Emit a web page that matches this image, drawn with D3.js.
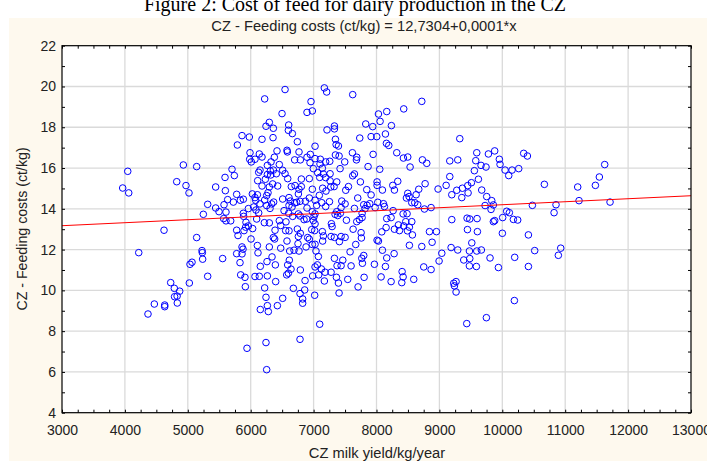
<!DOCTYPE html>
<html>
<head>
<meta charset="utf-8">
<script src="https://cdn.jsdelivr.net/npm/d3@7"></script>
<style>
  body { margin: 0; background: #fff; }
  svg { display: block; }
</style>
</head>
<body>
<div id="chart"></div>
<script>
// milk yield (kg/year), feeding costs (ct/kg)
const points = [
  [4045,15.84],[3965,15.02],[4061,14.78],[4824,15.33],[4622,12.95],[4220,11.85],[4728,10.38],[4786,10.10],
  [4790,9.69],[4830,9.72],[4871,9.96],[4833,9.38],[4468,9.33],[4633,9.28],[4633,9.20],[4367,8.84],
  [7171,19.93],[7208,19.73],[6546,19.85],[6222,19.39],[6959,19.26],[6895,18.73],[6980,18.80],[6498,18.67],
  [6296,18.24],[6243,18.05],[6360,17.95],[6604,18.11],[6599,17.85],[6662,17.69],[7213,17.87],[5862,17.59],
  [5978,17.52],[6180,17.41],[6355,17.49],[6742,17.29],[5788,17.13],[7023,17.07],[6418,16.84],[6577,16.87],
  [6583,16.79],[6768,16.79],[5989,16.75],[6137,16.69],[6948,16.67],[6895,16.53],[6376,16.53],[6180,16.54],
  [5984,16.43],[6010,16.30],[6068,16.43],[6699,16.40],[6789,16.40],[7023,16.46],[7107,16.43],[6943,16.26],
  [6323,16.30],[6265,16.13],[6455,16.17],[4929,16.15],[5141,16.07],[7102,16.20],[7192,16.30],[6996,15.97],
  [7139,15.99],[5703,15.94],[6148,15.90],[6127,15.79],[6312,15.86],[6360,15.90],[6508,15.89],[6546,15.72],
  [6408,15.72],[6265,15.68],[6318,15.66],[7065,15.77],[7155,15.71],[5592,15.54],[5740,15.63],[6111,15.38],
  [6233,15.45],[6588,15.48],[6805,15.46],[6932,15.48],[7097,15.54],[7192,15.53],[4971,15.14],[5443,15.07],
  [5019,14.78],[5597,14.89],[6180,15.12],[6296,15.07],[6349,15.22],[6429,15.12],[6646,15.09],[6705,15.14],
  [6768,14.96],[6805,15.09],[6980,14.96],[7144,15.01],[7197,14.87],[6275,14.79],[6254,14.65],[6026,14.73],
  [6106,14.69],[5777,14.71],[5634,14.45],[5724,14.33],[5835,14.42],[5883,14.47],[6068,14.55],[6079,14.42],
  [6222,14.43],[6365,14.33],[6508,14.48],[6609,14.55],[6630,14.38],[6699,14.29],[6758,14.73],[6784,14.37],
  [6869,14.37],[6932,14.53],[7023,14.42],[7091,14.66],[7129,14.30],[5316,14.22],[5443,14.04],[5576,14.20],
  [5496,13.86],[5607,13.84],[5247,13.73],[5963,14.01],[6047,14.09],[6148,14.24],[6127,13.80],[6254,14.16],
  [6334,14.24],[6307,14.02],[6609,14.17],[6657,14.09],[6731,14.32],[6895,14.04],[7049,14.17],[5883,13.78],
  [6604,13.78],[6758,13.75],[6980,13.86],[7192,14.11],[7023,13.75],[6530,13.91],[6084,13.94],
  [7622,19.60],[8720,19.27],[8031,18.65],[8163,18.77],[8057,18.29],[8433,18.90],[7829,18.16],[7940,18.03],
  [8237,18.08],[7331,18.06],[7331,17.92],[7734,17.47],[7914,17.54],[8004,17.54],[8142,17.67],[7347,17.41],
  [9324,17.44],[7358,17.15],[7395,17.08],[8158,17.21],[8195,17.11],[7617,16.75],[8322,16.75],[7946,16.67],
  [7347,16.64],[7405,16.59],[7686,16.53],[7681,16.40],[8428,16.49],[8497,16.54],[8730,16.40],[8799,16.23],
  [7257,16.33],[7495,16.30],[8534,16.05],[7866,16.07],[8052,15.94],[7421,15.97],[9165,16.35],[9292,16.40],
  [7262,15.72],[7649,15.71],[7622,15.62],[7368,15.32],[7262,15.37],[7326,15.09],[7273,15.07],[7554,15.09],
  [7744,15.32],[8009,15.32],[8009,15.15],[8338,15.35],[8259,15.15],[8285,14.92],[8094,14.92],[7845,14.94],
  [7511,14.91],[8773,15.23],[8672,14.96],[8979,14.97],[9107,15.15],[9165,15.58],[9197,14.69],[9276,14.91],
  [9366,15.01],[9451,15.14],[9456,14.78],[9509,15.28],[7702,14.53],[7914,14.68],[8497,14.76],[8518,14.60],
  [8476,14.53],[8630,14.69],[8608,14.30],[8656,14.20],[8561,14.30],[7448,14.38],[7501,14.24],[7252,14.35],
  [7649,14.02],[7797,14.20],[7850,14.17],[7893,14.25],[8020,14.32],[8110,14.25],[8126,14.11],[7978,14.06],
  [7818,14.01],[7437,14.06],[7368,13.86],[7342,13.73],[7426,13.78],[7771,13.78],[8264,13.91],[8423,13.75],
  [8486,13.76],[8762,13.99],[8868,14.06],[9356,14.55],
  [5570,13.52],[5607,13.41],[5682,13.41],[5888,13.63],[5925,13.34],[5920,13.10],[5963,13.16],[6031,13.03],
  [5777,12.95],[5798,12.69],[5894,12.93],[6095,13.50],[6217,13.32],[6296,13.31],[6455,13.42],[6477,13.18],
  [6561,13.36],[6609,12.92],[6556,12.93],[6387,12.95],[6742,13.01],[6789,12.80],[6848,13.47],[6890,13.50],
  [6996,13.42],[7023,13.26],[6970,12.98],[7017,12.93],[7007,13.62],[7139,12.88],[7155,12.67],[5141,12.59],
  [6005,12.52],[6360,12.59],[6381,12.52],[6577,12.42],[6758,12.64],[6752,12.29],[6906,12.59],[6932,12.51],
  [6980,12.25],[7023,12.26],[7144,12.42],[6296,12.13],[6477,12.07],[6620,11.93],[6689,11.97],[6768,11.93],
  [6880,12.13],[7038,11.93],[7076,11.66],[5226,11.95],[5231,11.85],[5236,11.53],[5554,11.56],[5862,12.13],
  [5878,12.02],[5862,11.79],[5777,11.80],[6106,12.20],[6116,11.84],[6339,11.64],[6259,11.41],[6392,11.25],
  [6153,11.18],[5830,11.36],[5035,11.28],[5067,11.38],[5316,10.69],[5841,10.76],[5909,10.64],[6068,10.68],
  [6137,10.69],[6265,10.71],[5915,10.18],[6397,10.43],[6588,11.25],[6614,11.48],[6641,11.04],[6572,10.76],
  [6599,10.84],[6678,10.10],[6789,11.00],[6864,10.48],[6858,10.02],[6784,9.84],[6826,9.58],[6826,9.37],
  [7023,11.15],[6985,10.71],[7060,11.25],[7081,10.76],[7123,11.05],[7182,10.89],[7171,10.46],[7017,9.76],
  [5024,10.36],[6222,10.12],[6243,9.66],[6508,9.61],[6153,9.06],[6265,9.25],[6280,8.96],[6424,9.25],
  [7097,8.34],[6784,7.60],[6243,7.44],[5941,7.16],[6254,6.11],[6667,13.63],[6784,13.65],
  [7384,13.67],[7522,13.44],[7686,13.37],[7729,13.47],[7771,13.57],[7283,13.27],[7294,13.13],[7278,12.64],
  [7331,12.60],[7437,12.64],[7501,12.60],[7410,12.39],[7628,13.00],[7755,12.83],[7760,12.57],[7670,12.25],
  [7580,11.89],[8163,13.52],[8232,13.57],[8153,13.08],[8084,12.87],[8285,13.00],[8365,12.93],[8349,13.21],
  [8465,13.37],[8561,13.37],[8433,13.16],[8523,13.10],[8571,12.72],[8492,12.92],[8009,12.46],[8031,12.42],
  [8523,12.21],[8720,12.15],[8842,12.88],[8953,12.88],[8884,12.36],[9197,13.47],[9440,13.54],[9483,13.50],
  [9446,12.98],[9515,12.33],[9186,12.10],[9292,11.98],[9387,11.49],[9483,11.56],[9477,11.20],[8094,11.97],
  [8280,11.80],[8163,11.59],[8142,11.17],[7967,11.28],[8073,10.66],[8232,10.43],[8407,10.92],[8423,10.66],
  [8402,10.38],[8592,10.54],[8751,11.15],[8868,11.02],[8995,11.44],[9038,11.82],[7797,11.71],[7766,11.57],
  [7776,11.33],[7596,11.20],[7437,11.21],[7464,11.48],[7331,11.57],[7373,11.21],[7278,10.89],[7363,10.64],
  [7395,10.36],[7405,9.87],[7543,10.54],[7707,10.17],[7803,10.64],[9228,10.35],[9265,10.43],[9239,10.22],
  [9265,9.92],[9435,8.37],
  [9594,16.75],[9578,16.36],[9779,16.69],[9879,16.84],[9662,16.13],[9741,16.05],[9953,16.43],[9964,16.18],
  [10044,15.90],[10155,15.90],[10102,15.63],[10261,15.97],[10340,16.72],[10399,16.59],[10669,15.20],[11199,15.07],
  [11480,15.15],[11543,15.56],[11628,16.17],[11220,14.40],[11713,14.33],[10854,14.20],[10823,13.81],[10478,14.17],
  [9673,14.92],[9752,14.60],[9832,14.40],[9858,14.19],[9726,14.16],[9821,13.97],[10070,13.88],[10112,13.81],
  [10006,13.57],[10176,13.48],[10245,13.45],[9858,13.37],[9879,13.42],[10001,12.80],[10415,12.72],[9667,11.98],
  [9805,11.59],[9938,11.12],[10197,11.62],[10415,11.17],[10515,11.95],[10891,11.72],[10929,12.07],[10192,9.50],
  [9747,8.66],[9556,15.87],[9620,15.45],[9599,13.52],[9604,12.88],[9594,11.93],[9477,11.93],[9588,11.17]
];

const xTicks = [3000,4000,5000,6000,7000,8000,9000,10000,11000,12000,13000];
const yTicks = [4,6,8,10,12,14,16,18,20,22];
const fitCoef = [12.7304, 0.000147];   // intercept, slope of the red line

const width = 707, height = 461;
const plotL = 62, plotR = 691, plotT = 45.7, plotB = 412.7;
const sans = "'Liberation Sans', Arial, sans-serif";

const svg = d3.select("#chart").append("svg")
  .attr("width", width)
  .attr("height", height);

// cream panel behind the chart
svg.append("rect")
  .attr("x", 9).attr("y", 18)
  .attr("width", width - 9).attr("height", height - 18)
  .attr("fill", "#fef9ee");

// caption of the page the chart was cut from (top is clipped)
svg.append("text")
  .attr("x", 355).attr("y", 11)
  .attr("text-anchor", "middle")
  .attr("font-family", "'Liberation Serif', 'Times New Roman', serif")
  .attr("font-size", "20px")
  .attr("fill", "#000")
  .text("Figure 2: Cost of feed for dairy production in the CZ");

const x = d3.scaleLinear().domain([3000, 13000]).range([plotL, plotR]);
const y = d3.scaleLinear().domain([4, 22]).range([plotB, plotT]);

svg.append("rect")
  .attr("x", plotL).attr("y", plotT)
  .attr("width", plotR - plotL).attr("height", plotB - plotT)
  .attr("fill", "#fff");

// grid
svg.append("g").selectAll("line")
  .data(xTicks.slice(1, -1))
  .enter().append("line")
  .attr("x1", d => x(d)).attr("x2", d => x(d))
  .attr("y1", plotT).attr("y2", plotB)
  .attr("stroke", "#dadada").attr("stroke-width", 1.3);

svg.append("g").selectAll("line")
  .data(yTicks.slice(1, -1))
  .enter().append("line")
  .attr("x1", plotL).attr("x2", plotR)
  .attr("y1", d => y(d)).attr("y2", d => y(d))
  .attr("stroke", "#dadada").attr("stroke-width", 1.3);

// small inward ticks on all four sides
const minorX = d3.range(3000, 13001, 250);
const minorY = d3.range(4, 22.01, 1);
const tickLen = 3;

svg.append("g").attr("transform", `translate(0,${plotB})`)
  .call(d3.axisBottom(x).tickValues(minorX).tickSize(-tickLen).tickFormat(""))
  .call(g => g.select(".domain").remove());
svg.append("g").attr("transform", `translate(0,${plotT})`)
  .call(d3.axisTop(x).tickValues(minorX).tickSize(-tickLen).tickFormat(""))
  .call(g => g.select(".domain").remove());
svg.append("g").attr("transform", `translate(${plotL},0)`)
  .call(d3.axisLeft(y).tickValues(minorY).tickSize(-tickLen).tickFormat(""))
  .call(g => g.select(".domain").remove());
svg.append("g").attr("transform", `translate(${plotR},0)`)
  .call(d3.axisRight(y).tickValues(minorY).tickSize(-tickLen).tickFormat(""))
  .call(g => g.select(".domain").remove());

// tick labels
const xAxis = svg.append("g").attr("transform", `translate(0,${plotB})`)
  .call(d3.axisBottom(x).tickValues(xTicks).tickSize(0).tickPadding(12).tickFormat(d3.format("d")));
xAxis.select(".domain").remove();
xAxis.selectAll("text")
  .attr("font-family", sans)
  .attr("font-size", "14px").attr("fill", "#222");

const yAxis = svg.append("g").attr("transform", `translate(${plotL},0)`)
  .call(d3.axisLeft(y).tickValues(yTicks).tickSize(0).tickPadding(6).tickFormat(d3.format("d")));
yAxis.select(".domain").remove();
yAxis.selectAll("text")
  .attr("font-family", sans)
  .attr("font-size", "14px").attr("fill", "#222");

// points
svg.append("g").selectAll("circle")
  .data(points)
  .enter().append("circle")
  .attr("cx", d => x(d[0]))
  .attr("cy", d => y(d[1]))
  .attr("r", 3.3)
  .attr("fill", "none")
  .attr("stroke", "#0000ff")
  .attr("stroke-width", 1);

// regression line
svg.append("line")
  .attr("x1", x(3000)).attr("y1", y(fitCoef[0] + fitCoef[1] * 3000))
  .attr("x2", x(13000)).attr("y2", y(fitCoef[0] + fitCoef[1] * 13000))
  .attr("stroke", "#ff0000").attr("stroke-width", 1);

svg.append("rect")
  .attr("x", plotL).attr("y", plotT)
  .attr("width", plotR - plotL).attr("height", plotB - plotT)
  .attr("fill", "none").attr("stroke", "#000").attr("stroke-width", 1.2);

// titles
svg.append("text")
  .attr("x", 364).attr("y", 31)
  .attr("text-anchor", "middle")
  .attr("font-family", sans)
  .attr("font-size", "14.7px").attr("fill", "#222")
  .text("CZ - Feeding costs (ct/kg) = 12,7304+0,0001*x");

svg.append("text")
  .attr("x", 377).attr("y", 458)
  .attr("text-anchor", "middle")
  .attr("font-family", sans)
  .attr("font-size", "14.7px").attr("fill", "#222")
  .text("CZ milk yield/kg/year");

svg.append("text")
  .attr("transform", "translate(27,229) rotate(-90)")
  .attr("text-anchor", "middle")
  .attr("font-family", sans)
  .attr("font-size", "14.2px").attr("fill", "#222")
  .text("CZ - Feeding costs (ct/kg)");
</script>
</body>
</html>
